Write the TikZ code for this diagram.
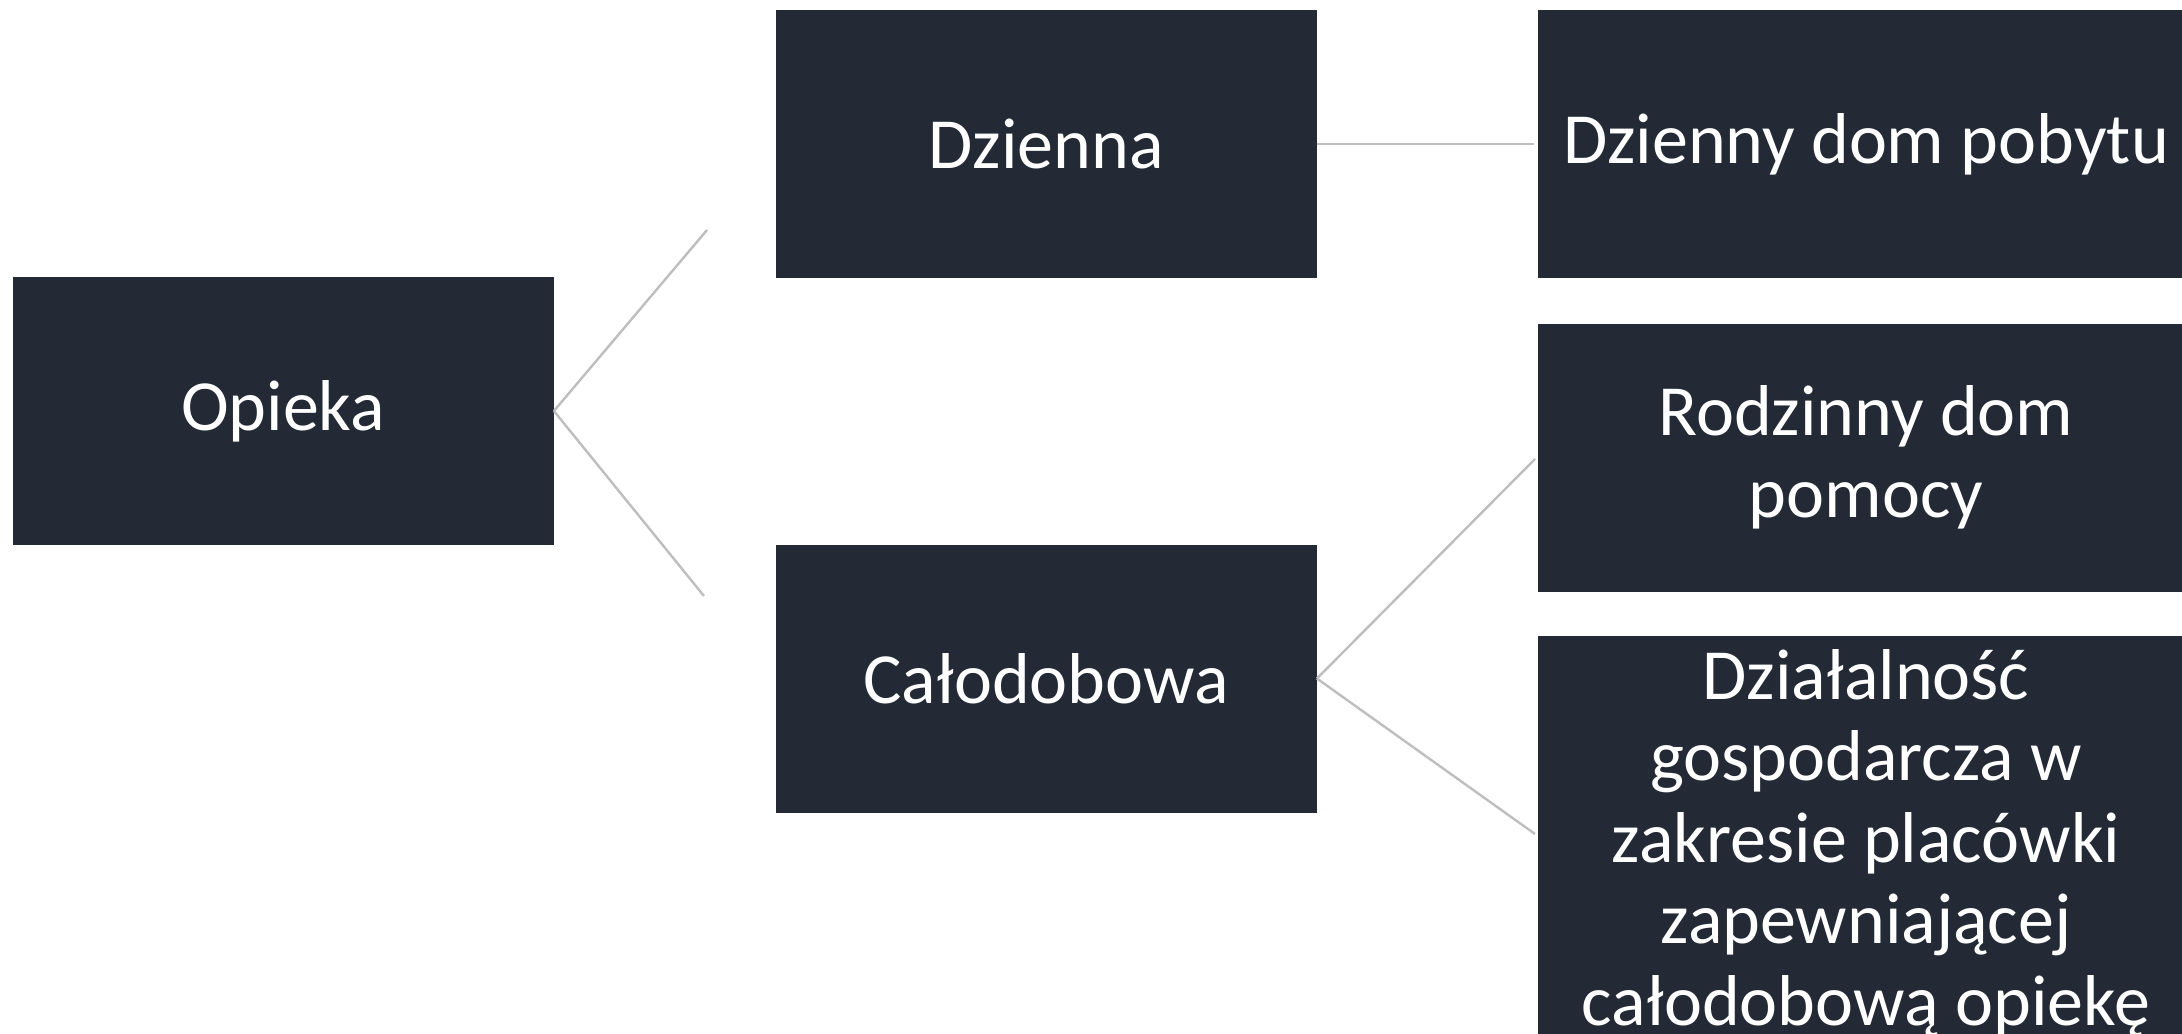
\documentclass[tikz,border=0pt]{standalone}
\usepackage{fontspec}
\setmainfont{Carlito}
\definecolor{boxfill}{RGB}{35,42,54}
\definecolor{linkgray}{RGB}{190,190,190}
\begin{document}
\begin{tikzpicture}[x=0.5pt, y=-0.5pt,
    box/.style={fill=boxfill, text=white, inner sep=0pt, align=center,
                font=\fontsize{36}{40.75}\selectfont},
    unitbox/.style={box, minimum width=270.5pt, minimum height=134pt},
    widebox/.style={box, minimum width=328.5pt, minimum height=134pt},
    link/.style={draw=linkgray, line width=1.2pt}]

    \useasboundingbox (0,0) rectangle (2182,1033);
    \clip (0,0) rectangle (2182,1033);

    % first and second level
    \node[unitbox] (opieka) at (283,411) {Opieka};
    \node[unitbox] (dzienna) at (1046,144) {Dzienna};
    \node[unitbox] (calodobowa) at (1046,678.5) {Całodobowa};

    % third level
    \node[widebox] (dziennydom) at (1866,144) {Dzienny dom pobytu};
    \node[widebox] (rodzinnydom) at (1866,457.5) {Rodzinny dom\\pomocy};
    \node[widebox, minimum height=207pt] (dzialalnosc) at (1866,843)
        {Działalność\\gospodarcza w\\zakresie placówki\\zapewniającej\\całodobową opiekę};

    % free ends of the connectors
    \coordinate (opiekaup) at (707,230);
    \coordinate (opiekadown) at (704,596);
    \coordinate (calodobowaup) at (1535,459);
    \coordinate (calodobowadown) at (1535,834);

    \draw[link] (opieka.east) -- (opiekaup);
    \draw[link] (opieka.east) -- (opiekadown);
    \draw[link, shorten >=1.5pt] (dzienna.east) -- (dziennydom.west);
    \draw[link] (calodobowa.east) -- (calodobowaup);
    \draw[link] (calodobowa.east) -- (calodobowadown);

\end{tikzpicture}
\end{document}
